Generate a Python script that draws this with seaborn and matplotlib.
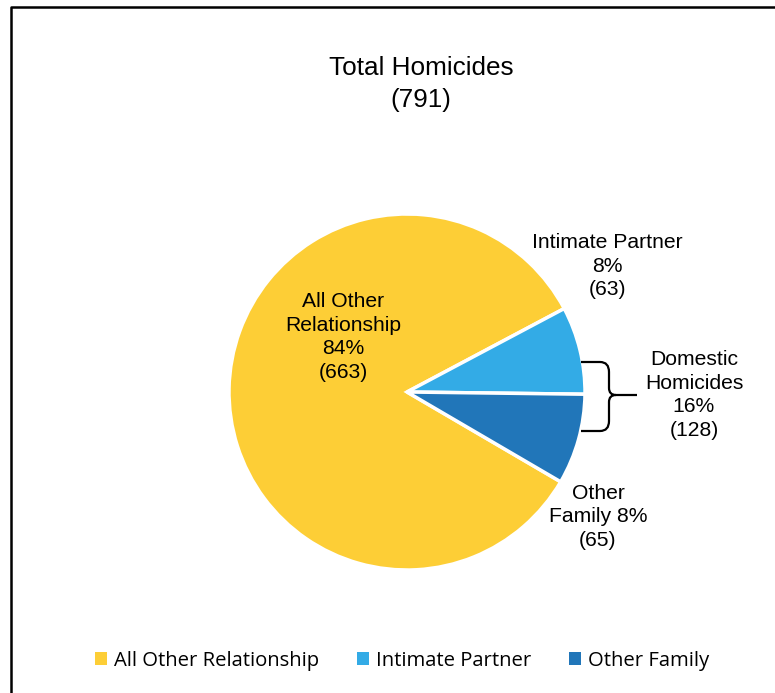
import matplotlib
matplotlib.use("Agg")
import matplotlib.pyplot as plt
import seaborn as sns
from matplotlib.path import Path
from matplotlib.patches import PathPatch, Patch
from matplotlib.lines import Line2D

# datos del grafico
categorias = ["All Other Relationship", "Intimate Partner", "Other Family"]
valores = [663, 63, 65]
colores = ["#FDCE36", "#33ABE6", "#2176B9"]
etiquetas = ["All Other\nRelationship\n84%\n(663)", "Intimate Partner\n8%\n(63)", "Other\nFamily 8%\n(65)"]
total = 791
domesticos = "Domestic\nHomicides\n16%\n(128)"

sns.set_theme(style="white")
plt.rcParams['font.family'] = ['Liberation Sans', 'DejaVu Sans']
plt.rcParams['text.color'] = 'black'

fig = plt.figure(figsize=(7.75, 6.93), dpi=100)
W, H = 775, 693
cx, cy, r = 407, 392, 178

ax = fig.add_axes([(cx - r) / W, (H - cy - r) / H, 2 * r / W, 2 * r / H])
ax.pie(valores, colors=colores, startangle=-30.3, counterclock=False,
       wedgeprops=dict(edgecolor="white", linewidth=2.5))
ax.set_xlim(-1, 1)
ax.set_ylim(-1, 1)
ax.axis("off")

def px(x, y):
    return ((x - cx) / r, (cy - y) / r)

fs = 15.2
ls = 1.33
pos = [px(343, 337), px(607, 266), px(598, 517)]
for et, p in zip(etiquetas, pos):
    ax.text(p[0], p[1], et, ha="center", va="center", fontsize=fs, linespacing=ls, clip_on=False)
p = px(694, 395)
ax.text(p[0], p[1], domesticos, ha="center", va="center", fontsize=fs, linespacing=ls, clip_on=False)

# llave
pts = [(581, 362), (600, 362), (609, 362), (609, 372), (609, 388), (609, 395), (616, 395),
       (637, 395), (616, 395), (609, 395), (609, 402), (609, 421), (609, 431), (600, 431), (581, 431)]
codes = [Path.MOVETO, Path.LINETO, Path.CURVE3, Path.CURVE3, Path.LINETO, Path.CURVE3, Path.CURVE3,
         Path.LINETO, Path.MOVETO, Path.CURVE3, Path.CURVE3, Path.LINETO, Path.CURVE3, Path.CURVE3, Path.LINETO]
brace = Path([px(*q) for q in pts], codes)
ax.add_patch(PathPatch(brace, facecolor="none", edgecolor="black", lw=1.6, clip_on=False))

fig.text(421 / W, 1 - 84 / H, "Total Homicides\n(" + str(total) + ")", ha="center", va="center",
         fontsize=18.8, linespacing=1.38)

# marco
fig.add_artist(Line2D([11 / W, 11 / W, 1.0], [0.0, 1 - 7 / H, 1 - 7 / H], color="black", lw=1.8,
                      transform=fig.transFigure))

handles = [Patch(facecolor=c, edgecolor="none") for c in colores]
fig.legend(handles, categorias, loc="center", bbox_to_anchor=(402 / W, 1 - 661 / H), ncol=3,
           frameon=False, prop={"family": "Open Sans", "size": 14.6}, handlelength=0.6, handleheight=0.6,
           handletextpad=0.35, columnspacing=1.85)

fig.savefig("out.png", dpi=100)
